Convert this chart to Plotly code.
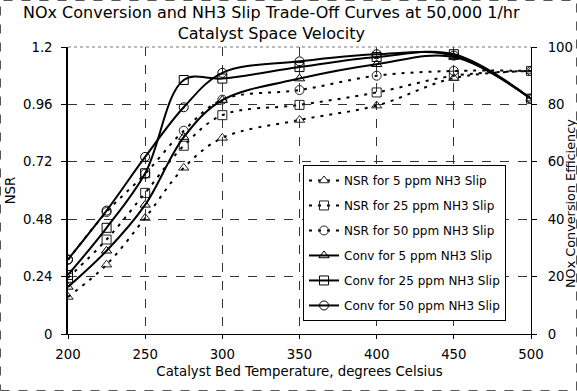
import plotly.graph_objects as go

temps = [200, 225, 250, 275, 300, 350, 400, 450, 500]

nsr_5 = [0.155, 0.29, 0.485, 0.695, 0.82, 0.895, 0.955, 1.07, 1.10]
nsr_25 = [0.235, 0.395, 0.59, 0.787, 0.915, 0.958, 1.01, 1.08, 1.10]
nsr_50 = [0.31, 0.51, 0.67, 0.85, 0.98, 1.02, 1.08, 1.10, 1.10]

conv_5 = [16.4, 29, 45, 68.6, 81.5, 89, 94, 96.5, 82]
conv_25 = [20.6, 37, 56, 88.5, 89, 93, 96.5, 97.5, 82]
conv_50 = [26, 43, 61.7, 79, 91, 95, 97.5, 97, 82]

names = ["NSR for 5 ppm NH3 Slip", "NSR for 25 ppm NH3 Slip", "NSR for 50 ppm NH3 Slip",
         "Conv for 5 ppm NH3 Slip", "Conv for 25 ppm NH3 Slip", "Conv for 50 ppm NH3 Slip"]
x_title = "Catalyst Bed Temperature, degrees Celsius"
y_title = "NSR"
y2_title = "NOx Conversion Efficiency"
chart_title = "NOx Conversion and NH3 Slip Trade-Off Curves at 50,000 1/hr<br>Catalyst Space Velocity"

FONT = "DejaVu Sans"
symbols = ["triangle-up-open", "square-open", "circle-open"]

fig = go.Figure()
for i, ys in enumerate([nsr_5, nsr_25, nsr_50]):
    fig.add_trace(go.Scatter(
        x=temps, y=ys, name=names[i], yaxis="y", legendgroup=f"g{i}",
        mode="lines+markers",
        line=dict(color="black", width=2, dash="3px,6px", shape="spline", smoothing=1),
        marker=dict(symbol=symbols[i], size=9, color="#222", line=dict(width=1, color="#222")),
    ))
for i, ys in enumerate([conv_5, conv_25, conv_50]):
    fig.add_trace(go.Scatter(
        x=temps, y=ys, name=names[3 + i], yaxis="y2", legendgroup=f"g{3+i}",
        mode="lines+markers",
        line=dict(color="black", width=2, shape="spline", smoothing=1),
        marker=dict(symbol=symbols[i], size=9, color="black", line=dict(width=1, color="black")),
    ))

fig.update_layout(
    width=577, height=391,
    margin=dict(l=68, r=46, t=47, b=57, autoexpand=False),
    paper_bgcolor="white", plot_bgcolor="white",
    font=dict(family=FONT, size=13.3, color="black"),
    showlegend=True,
    legend=dict(
        x=0.5076, y=0.589, xanchor="left", yanchor="top",
        bgcolor="white", bordercolor="black", borderwidth=1,
        font=dict(family=FONT, size=12, color="black"),
        tracegroupgap=6, itemwidth=30, traceorder="grouped",
    ),
    xaxis=dict(
        range=[200, 500], dtick=50, tick0=200, automargin=False,
        showgrid=True, gridcolor="#333", griddash="dash", gridwidth=1,
        showline=True, linecolor="black", linewidth=1,
        ticks="outside", ticklen=4, tickcolor="black", ticklabelstandoff=4,
        zeroline=False,
        title=dict(text=x_title, font=dict(size=13.3), standoff=5),
    ),
    yaxis=dict(
        range=[0, 1.2], dtick=0.24, tick0=0, automargin=False,
        showgrid=True, gridcolor="#333", griddash="dash", gridwidth=1,
        showline=True, linecolor="black", linewidth=1.5,
        ticks="outside", ticklen=5, tickcolor="black", ticklabelstandoff=6,
        zeroline=False,
        title=dict(text=y_title, font=dict(size=13.3), standoff=4),
    ),
    yaxis2=dict(
        range=[0, 100], dtick=20, tick0=0, overlaying="y", side="right", automargin=False,
        showgrid=False, showline=True, linecolor="black", linewidth=1,
        ticks="outside", ticklen=5, tickcolor="black", zeroline=False,
        ticklabelstandoff=8,
    ),
    annotations=[
        dict(text=chart_title, xref="paper", yref="paper", x=0.44, y=1.162,
             xanchor="center", yanchor="top", showarrow=False,
             font=dict(family=FONT, size=16, color="black")),
        dict(text=y2_title, xref="paper", yref="paper", x=1.0864, y=0.453,
             xanchor="center", yanchor="middle", textangle=-90, showarrow=False,
             font=dict(family=FONT, size=12.8, color="black")),
    ],
    shapes=[
        dict(type="line", xref="paper", yref="paper", x0=0, x1=1, y0=1, y1=1,
             line=dict(color="#777", width=1, dash="dot")),
        dict(type="rect", xref="paper", yref="paper",
             x0=-67.5/463, x1=1 + 45.5/463, y0=-56.5/287, y1=1 + 46.5/287,
             line=dict(color="#555", width=1, dash="dash")),
    ],
)

fig.write_html("out.html")
